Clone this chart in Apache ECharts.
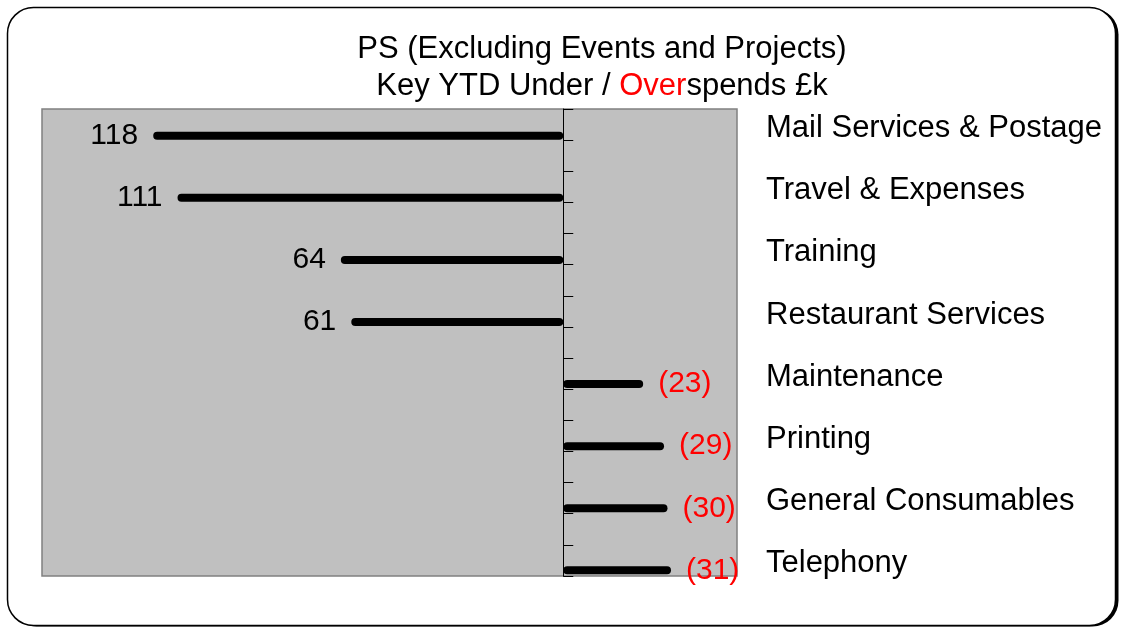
<!DOCTYPE html>
<html>
<head>
<meta charset="utf-8">
<script src="https://cdn.jsdelivr.net/npm/echarts@6/dist/echarts.min.js"></script>
<style>
  html, body { margin: 0; padding: 0; background: #fff; }
  #chart { width: 1121px; height: 628px; }
</style>
</head>
<body>
<div id="chart"></div>
<script>
// categories, top to bottom
const categories = [
    'Mail Services & Postage',
    'Travel & Expenses',
    'Training',
    'Restaurant Services',
    'Maintenance',
    'Printing',
    'General Consumables',
    'Telephony'
];
// YTD variance £k: positive = underspend, negative = overspend
const variance = [118, 111, 64, 61, -23, -29, -30, -31];

// value axis range (reversed: underspends extend to the left)
const xMin = -50;
const xMax = 150;
// minor tick axis behind the bars
const tickMin = 0;
const tickMax = 15;

const FONT = 'Liberation Sans, Arial, sans-serif';

const chart = echarts.init(document.getElementById('chart'));

const barData = variance.map(v => {
    if (v >= 0) {
        return { value: v, label: { position: 'left', color: '#000' } };
    }
    return { value: v, label: { position: 'right', color: '#ff0000' } };
});

chart.setOption({
    animation: false,
    backgroundColor: '#fff',
    title: {
        left: 597,
        top: 26,
        textAlign: 'center',
        text: '{a|PS (Excluding Events and Projects)}\n{a|Key YTD Under / }{r|Over}{a|spends £k}',
        textStyle: {
            rich: {
                a: { fontFamily: FONT, fontSize: 31, fontWeight: 'normal', color: '#000', lineHeight: 37 },
                r: { fontFamily: FONT, fontSize: 31, fontWeight: 'normal', color: '#ff0000', lineHeight: 37 }
            }
        }
    },
    graphic: [
        // drop shadow on the right / bottom
        {
            type: 'rect',
            z: -101,
            shape: { x: 10.5, y: 8.5, width: 1108, height: 618, r: 26 },
            style: { fill: '#000' }
        },
        {
            type: 'rect',
            z: -100,
            shape: { x: 7.5, y: 7.5, width: 1108, height: 618, r: 26 },
            style: { fill: '#fff', stroke: '#000', lineWidth: 1.5 }
        }
    ],
    grid: [
        // grey plot area with the zero axis
        {
            left: 42, top: 109, width: 695, height: 467,
            show: true,
            backgroundColor: '#c0c0c0',
            borderColor: '#808080',
            borderWidth: 1.5
        },
        // bars
        {
            left: 42, top: 104.7, width: 695, height: 496.7
        }
    ],
    xAxis: [
        {
            gridIndex: 0, type: 'value', min: xMin, max: xMax, inverse: true,
            axisLine: { show: false }, axisTick: { show: false },
            axisLabel: { show: false }, splitLine: { show: false }
        },
        {
            gridIndex: 1, type: 'value', min: xMin, max: xMax, inverse: true,
            show: false, splitLine: { show: false }
        }
    ],
    yAxis: [
        {
            gridIndex: 0, type: 'value', min: tickMin, max: tickMax, interval: 1,
            axisLine: { show: true, onZero: true, lineStyle: { color: '#000', width: 1 } },
            axisTick: { show: true, inside: true, length: 10, lineStyle: { color: '#000', width: 1 } },
            axisLabel: { show: false },
            splitLine: { show: false }
        },
        {
            gridIndex: 1, type: 'category', data: categories, inverse: true,
            position: 'right',
            axisLine: { show: false }, axisTick: { show: false },
            splitLine: { show: false },
            axisLabel: {
                margin: 29,
                align: 'left',
                verticalAlign: 'bottom',
                lineHeight: 14,
                fontFamily: FONT,
                fontSize: 31,
                color: '#000'
            }
        }
    ],
    series: [{
        type: 'bar',
        xAxisIndex: 1,
        yAxisIndex: 1,
        data: barData,
        barWidth: 8,
        itemStyle: { color: '#000', borderRadius: 4 },
        label: {
            show: true,
            distance: 15,
            fontFamily: FONT,
            fontSize: 30,
            formatter: p => p.value >= 0 ? String(p.value) : '(' + (-p.value) + ')'
        }
    }]
});
</script>
</body>
</html>
